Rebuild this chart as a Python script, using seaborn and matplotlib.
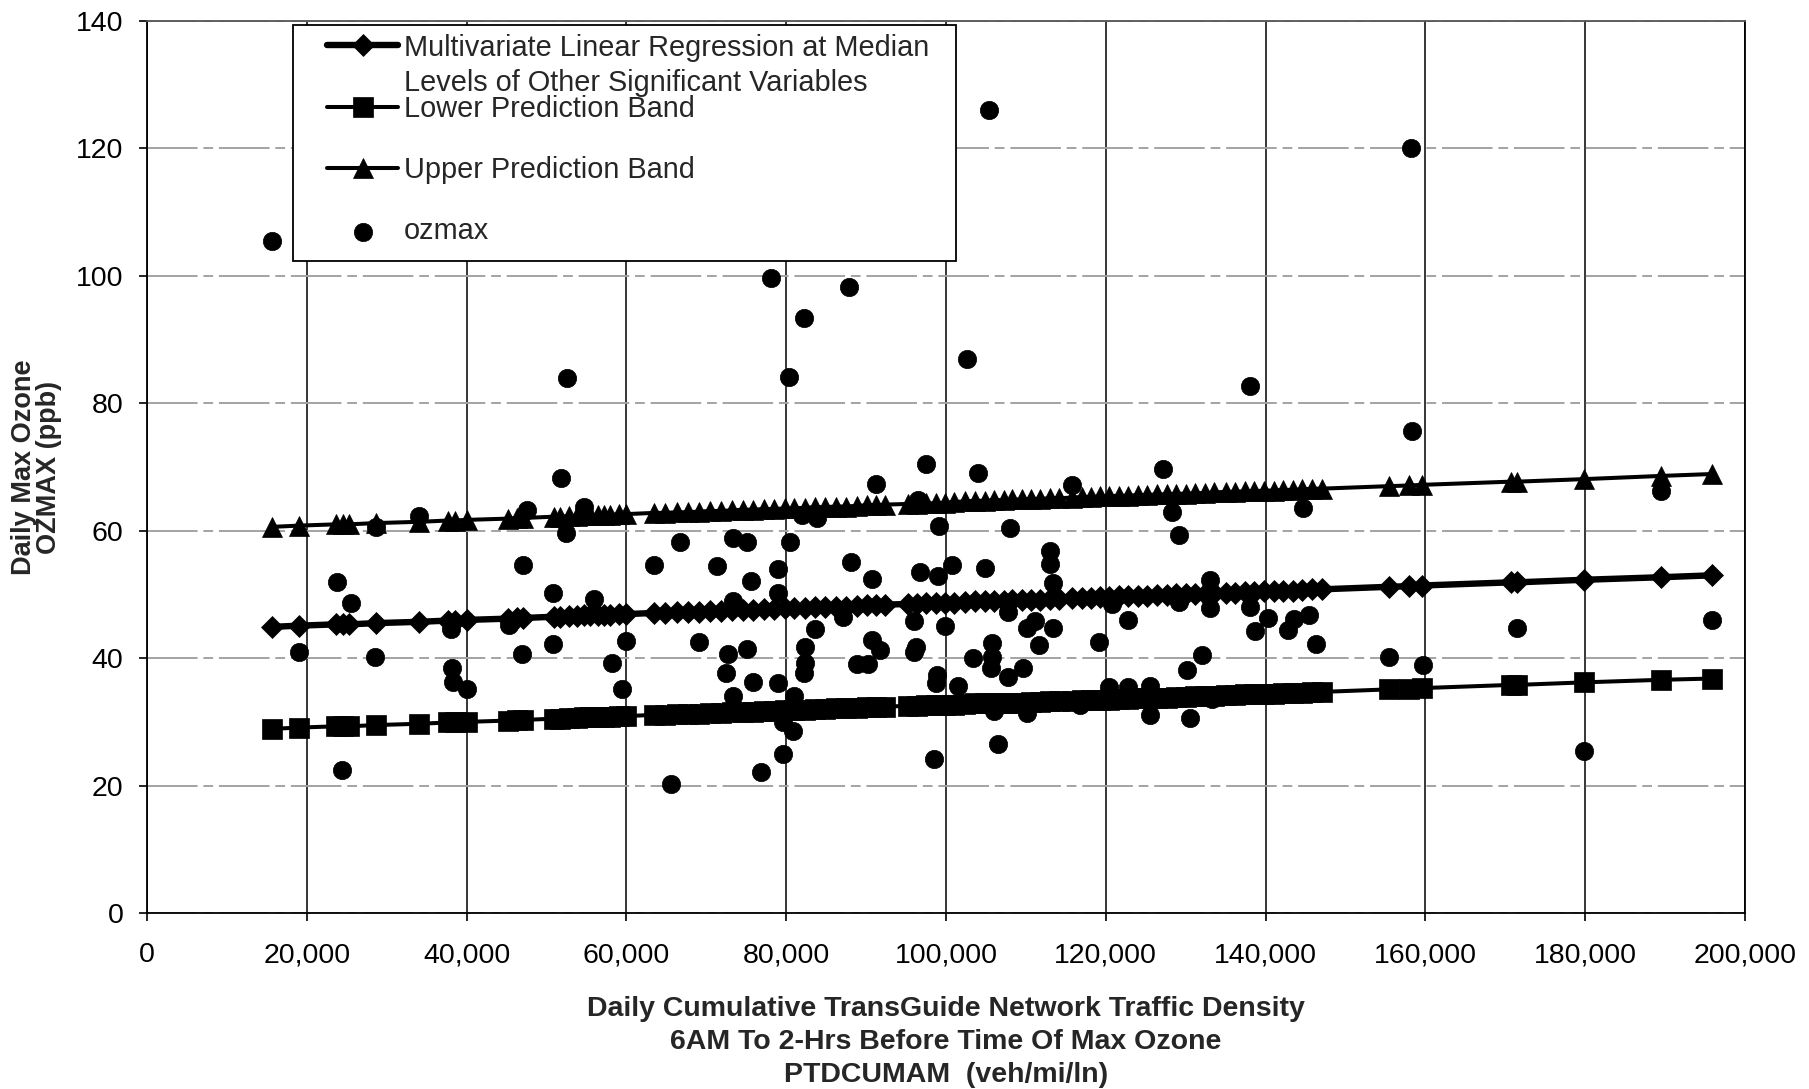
import matplotlib
matplotlib.use("Agg")
import matplotlib.pyplot as plt
from matplotlib.patches import Rectangle
from matplotlib.ticker import FuncFormatter
import pandas as pd
import seaborn as sns

# Observed daily maximum ozone (ppb) against cumulative traffic density (veh/mi/ln)
ozmax_traffic = [
    15700, 19000, 23800, 24400, 25500, 28700, 28500, 34100, 38000, 38200,
    38300, 40000, 45300, 47000, 46900, 47500, 50800, 50800, 51800, 52600,
    52500, 54700, 56000, 58200, 59500, 60000, 63500, 65600, 66700, 69100,
    71300, 72500, 72700, 73300, 73300, 73300, 75100, 75100, 75600, 75800,
    76900, 78100, 79000, 79000, 79000, 79600, 79600, 80400, 80500, 80800,
    81000, 82000, 82200, 82300, 82300, 82200, 83600, 83900, 87100, 87900,
    88100, 88900, 90200, 90800, 90800, 91300, 91800, 96000, 96300, 96000,
    96500, 96800, 97500, 98500, 98900, 98700, 99000, 99100, 99900, 100800,
    101500, 102600, 103400, 104000, 104900, 105400, 105800, 105800, 105600, 106000,
    106500, 107800, 107800, 108000, 109600, 110100, 110100, 111100, 111600, 113000,
    113000, 113400, 113400, 115800, 116800, 119200, 120400, 120800, 122800, 122800,
    125500, 125500, 127100, 128300, 129200, 129100, 130200, 130500, 132000, 133000,
    133000, 133300, 138000, 138000, 138700, 140300, 142800, 143600, 144700, 145400,
    146300, 155500, 158200, 158300, 159700, 171500, 179900, 189500, 195900,
]
ozmax_ppb = [
    105.5, 41.0, 52.0, 22.5, 48.6, 60.6, 40.2, 62.3, 44.5, 38.4,
    36.3, 35.2, 45.2, 54.6, 40.6, 63.3, 50.2, 42.2, 68.3, 84.0,
    59.7, 63.7, 49.3, 39.3, 35.2, 42.7, 54.6, 20.2, 58.2, 42.6,
    54.5, 37.7, 40.6, 58.8, 48.9, 34.0, 58.3, 41.4, 52.1, 36.2,
    22.2, 99.7, 54.0, 50.2, 36.1, 30.0, 25.0, 84.2, 58.2, 28.6,
    34.0, 62.5, 93.4, 41.7, 39.2, 37.6, 44.6, 62.0, 46.5, 98.2,
    55.1, 39.1, 39.1, 52.4, 42.9, 67.3, 41.2, 45.8, 41.8, 41.0,
    64.8, 53.5, 70.4, 24.2, 37.4, 36.1, 52.9, 60.8, 45.1, 54.6,
    35.6, 87.0, 40.0, 69.0, 54.1, 126.0, 42.4, 40.2, 38.4, 31.7,
    26.5, 47.2, 37.1, 60.4, 38.5, 44.8, 31.4, 45.9, 42.1, 56.8,
    54.8, 51.8, 44.7, 67.1, 32.6, 42.6, 35.4, 48.5, 46.0, 35.4,
    35.6, 31.0, 69.7, 62.9, 59.4, 48.8, 38.1, 30.6, 40.5, 52.2,
    47.8, 33.6, 82.7, 48.1, 44.3, 46.3, 44.4, 46.2, 63.5, 46.7,
    42.2, 40.2, 120.1, 75.6, 39.0, 44.7, 25.5, 66.2, 46.0,
]

# Model predictions at the plotted traffic densities
pred_traffic = [
    15600, 19000, 23600, 24500, 25300, 28700, 34100, 37700, 38500, 40000,
    45200, 46300, 47100, 50900, 51700, 52800, 53800, 54700, 55500, 56400,
    57200, 58000, 59100, 59900, 63500,
    64800, 66300, 67700, 69100, 70500, 71900, 73200, 74600, 75900, 77200,
    78500, 79800, 81000, 82300, 83600, 84900, 86200, 87500, 88800, 90100,
    91300, 92400,
    95200, 96400, 97500, 98700, 99900, 101000, 102400, 103600, 104900, 106000,
    107200, 108300, 109500, 110700, 111800, 113000, 114200, 115800, 117000, 118200,
    119300, 120400, 121600, 122800, 124000, 125200, 126400, 127600, 128800, 130000,
    131200, 132400, 133600, 135000, 136200, 137400, 138600, 139800, 141000, 142200,
    143400, 144600, 145800, 147000,
    155500, 158000, 159600, 170700, 171500, 179900, 189500, 195900,
]
pred_median = [
    44.9, 45.1, 45.3, 45.3, 45.3, 45.5, 45.7, 45.9, 45.9, 46.0,
    46.2, 46.3, 46.3, 46.5, 46.5, 46.6, 46.6, 46.7, 46.7, 46.7,
    46.8, 46.8, 46.9, 46.9, 47.1,
    47.1, 47.2, 47.2, 47.3, 47.4, 47.4, 47.5, 47.6, 47.6, 47.7,
    47.7, 47.8, 47.8, 47.9, 48.0, 48.0, 48.1, 48.1, 48.2, 48.3,
    48.3, 48.4,
    48.5, 48.5, 48.6, 48.6, 48.7, 48.7, 48.8, 48.9, 48.9, 49.0,
    49.0, 49.1, 49.1, 49.2, 49.2, 49.3, 49.3, 49.4, 49.5, 49.5,
    49.6, 49.6, 49.7, 49.7, 49.8, 49.8, 49.9, 49.9, 50.0, 50.0,
    50.1, 50.1, 50.2, 50.3, 50.3, 50.4, 50.4, 50.5, 50.5, 50.6,
    50.6, 50.7, 50.8, 50.8,
    51.2, 51.3, 51.4, 51.9, 51.9, 52.3, 52.7, 53.0,
]
pred_lower = [
    28.9, 29.1, 29.3, 29.3, 29.3, 29.5, 29.7, 29.9, 29.9, 30.0,
    30.2, 30.3, 30.3, 30.5, 30.5, 30.6, 30.6, 30.7, 30.7, 30.7,
    30.8, 30.8, 30.9, 30.9, 31.1,
    31.1, 31.2, 31.2, 31.3, 31.4, 31.4, 31.5, 31.6, 31.6, 31.7,
    31.7, 31.8, 31.8, 31.9, 32.0, 32.0, 32.1, 32.1, 32.2, 32.3,
    32.3, 32.4,
    32.5, 32.5, 32.6, 32.6, 32.7, 32.7, 32.8, 32.9, 32.9, 32.9,
    32.9, 33.0, 33.0, 33.1, 33.1, 33.2, 33.2, 33.3, 33.4, 33.4,
    33.5, 33.5, 33.6, 33.6, 33.7, 33.7, 33.8, 33.8, 33.9, 33.9,
    34.0, 34.0, 34.1, 34.2, 34.2, 34.3, 34.3, 34.4, 34.4, 34.5,
    34.5, 34.6, 34.7, 34.7,
    35.1, 35.2, 35.3, 35.8, 35.8, 36.2, 36.6, 36.8,
]
pred_upper = [
    60.6, 60.8, 61.0, 61.0, 61.0, 61.2, 61.4, 61.6, 61.6, 61.7,
    61.9, 62.0, 62.0, 62.2, 62.2, 62.3, 62.3, 62.4, 62.4, 62.4,
    62.5, 62.5, 62.6, 62.6, 62.8,
    62.8, 62.9, 62.9, 63.0, 63.1, 63.1, 63.2, 63.3, 63.3, 63.4,
    63.4, 63.5, 63.5, 63.6, 63.7, 63.7, 63.8, 63.8, 63.9, 64.0,
    64.0, 64.1,
    64.2, 64.2, 64.3, 64.3, 64.4, 64.5, 64.6, 64.7, 64.7, 64.8,
    64.8, 64.9, 64.9, 65.0, 65.0, 65.1, 65.1, 65.2, 65.3, 65.3,
    65.4, 65.4, 65.5, 65.5, 65.6, 65.6, 65.7, 65.7, 65.8, 65.8,
    65.9, 65.9, 66.0, 66.1, 66.1, 66.2, 66.2, 66.3, 66.3, 66.4,
    66.4, 66.5, 66.6, 66.6,
    67.0, 67.1, 67.2, 67.7, 67.7, 68.1, 68.6, 68.9,
]

x_ticks = [0, 20000, 40000, 60000, 80000, 100000, 120000, 140000, 160000, 180000, 200000]
y_ticks = [0, 20, 40, 60, 80, 100, 120, 140]

label_mid = "Multivariate Linear Regression at Median"
label_mid_cont = "Levels of Other Significant Variables"
label_low = "Lower Prediction Band"
label_up = "Upper Prediction Band"
label_obs = "ozmax"

x_label = ("Daily Cumulative TransGuide Network Traffic Density\n"
           "6AM To 2-Hrs Before Time Of Max Ozone\n"
           "PTDCUMAM  (veh/mi/ln)")
y_label = "Daily Max Ozone\nOZMAX (ppb)"

pred = pd.DataFrame({"traffic": pred_traffic, "median": pred_median,
                     "lower": pred_lower, "upper": pred_upper})
obs = pd.DataFrame({"traffic": ozmax_traffic, "ozmax": ozmax_ppb})

sns.set_theme(style="white")
plt.rcParams["font.family"] = ["Liberation Sans", "DejaVu Sans"]

W, H = 1809, 1089
fig = plt.figure(figsize=(W / 100, H / 100), dpi=100)
ax = fig.add_axes([147 / W, 176 / H, 1598 / W, 892 / H])

line_kw = dict(ax=ax, data=pred, x="traffic", color="black", estimator=None,
               sort=False, markeredgecolor="black", markeredgewidth=0.5)
sns.lineplot(y="median", linewidth=4.6, marker="D", markersize=10.8,
             label=label_mid, zorder=3, **line_kw)
sns.lineplot(y="lower", linewidth=2.9, marker="s", markersize=14,
             label=label_low, zorder=3, **line_kw)
sns.lineplot(y="upper", linewidth=2.9, marker="^", markersize=14.5,
             label=label_up, zorder=3, **line_kw)
sns.scatterplot(data=obs, x="traffic", y="ozmax", ax=ax, color="black",
                s=175, edgecolor="black", linewidth=0.5, label=label_obs,
                zorder=4)

# legend box
ax.add_patch(Rectangle((293 / W, 1 - 261 / H), 663 / W, 236 / H,
                       transform=fig.transFigure, facecolor="white",
                       edgecolor="black", linewidth=1.3, zorder=4.5,
                       clip_on=False))

ax.set_xlim(0, 200000)
ax.set_ylim(0, 140)
ax.set_xticks(x_ticks)
ax.set_yticks(y_ticks)
ax.xaxis.set_major_formatter(FuncFormatter(lambda v, p: f"{int(round(v)):,}"))

ax.set_axisbelow(True)
ax.grid(False)
ax.xaxis.grid(True, color="black", linewidth=1.1)
ax.yaxis.grid(True, color="#a3a3a3", linewidth=1.4, linestyle=(0, (26, 3, 5, 3)))

for side, spine in ax.spines.items():
    spine.set_visible(True)
    spine.set_color("black")
    spine.set_linewidth(1.3)
ax.spines["top"].set_color("#555555")

ax.tick_params(axis="both", which="major", bottom=True, left=True,
               direction="out", length=6, width=1.2, colors="black",
               labelsize=20.5)
ax.tick_params(axis="x", pad=15)
ax.tick_params(axis="y", pad=11)

ax.set_xlabel(x_label, fontsize=20.5, fontweight="bold", linespacing=1.34)
ax.xaxis.set_label_coords(0.5, -0.093)
ax.set_ylabel(y_label, fontsize=19.5, fontweight="bold", linespacing=0.95)
ax.yaxis.set_label_coords(-0.0535, 0.5)

handles, labels = ax.get_legend_handles_labels()
hmap = dict(zip(labels, handles))
order = [label_mid, label_low, label_up, label_obs]
leg = ax.legend([hmap[k] for k in order], order, loc="upper left",
                bbox_to_anchor=(327 / W, 1 - 33.5 / H),
                bbox_transform=fig.transFigure, frameon=False, borderpad=0,
                borderaxespad=0, fontsize=20.8, handlelength=2.46,
                handletextpad=0.2, labelspacing=1.15, numpoints=1,
                scatterpoints=1)
leg.set_zorder(6)
ax.annotate(label_mid_cont, xy=(0, 0.5), xycoords=leg.get_texts()[0],
            xytext=(0, -25.5), textcoords="offset points", va="center",
            ha="left", fontsize=20.8, zorder=7, annotation_clip=False)

fig.savefig("out.png", dpi=100)
